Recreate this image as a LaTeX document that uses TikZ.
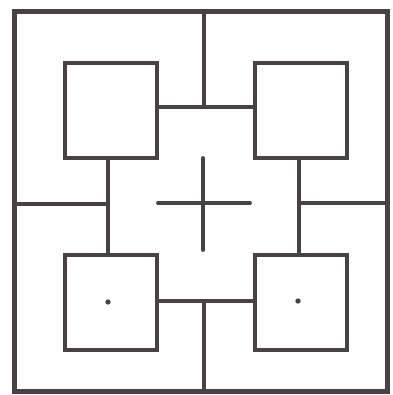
\documentclass[tikz,border=0pt]{standalone}
\begin{document}
\begin{tikzpicture}[x=1pt,y=-1pt,
  ink/.style={draw=inkc, line width=4.4pt},
  frame/.style={draw=inkc, line width=5pt},
  link/.style={draw=inkc, line width=3.8pt},
  crossline/.style={draw=inkc, line width=3.8pt, line cap=round}]
\definecolor{inkc}{HTML}{4A4242}
\useasboundingbox[fill=white] (0,0) rectangle (392,395);
% outer frame
\draw[frame] (14,12) rectangle (387,391);
% four squares as nodes
\node[ink, minimum width=92pt, minimum height=95pt, inner sep=0pt, anchor=north west] (tl) at (63,61) {};
\node[ink, minimum width=92pt, minimum height=95pt, inner sep=0pt, anchor=north west] (tr) at (253,61) {};
\node[ink, minimum width=92pt, minimum height=95pt, inner sep=0pt, anchor=north west] (bl) at (63,253) {};
\node[ink, minimum width=92pt, minimum height=95pt, inner sep=0pt, anchor=north west] (br) at (253,253) {};
% coordinates
\coordinate (topmid) at (204,12);
\coordinate (tj) at (204,107);
\coordinate (botmid) at (204,391);
\coordinate (bj) at (204,301);
\coordinate (leftmid) at (14,204);
\coordinate (lj) at (108,204);
\coordinate (rightmid) at (387,203);
\coordinate (rj) at (299,203);
% connectors
\draw[link] (tl.east |- tj) -- (tr.west |- tj);
\draw[link] (topmid) -- (tj);
\draw[link] (bl.east |- bj) -- (br.west |- bj);
\draw[link] (bj) -- (botmid);
\draw[link] (tl.south -| lj) -- (bl.north -| lj);
\draw[link] (leftmid) -- (lj);
\draw[link] (tr.south -| rj) -- (br.north -| rj);
\draw[link] (rj) -- (rightmid);
% centre cross
\coordinate (c1) at (203,158);
\coordinate (c2) at (203,250);
\coordinate (c3) at (158,203);
\coordinate (c4) at (250,203);
\draw[crossline] (c1) -- (c2);
\draw[crossline] (c3) -- (c4);
% dots
\fill[inkc] (108,302) circle (2.7pt);
\fill[inkc] (298,301) circle (2.7pt);
\end{tikzpicture}
\end{document}
